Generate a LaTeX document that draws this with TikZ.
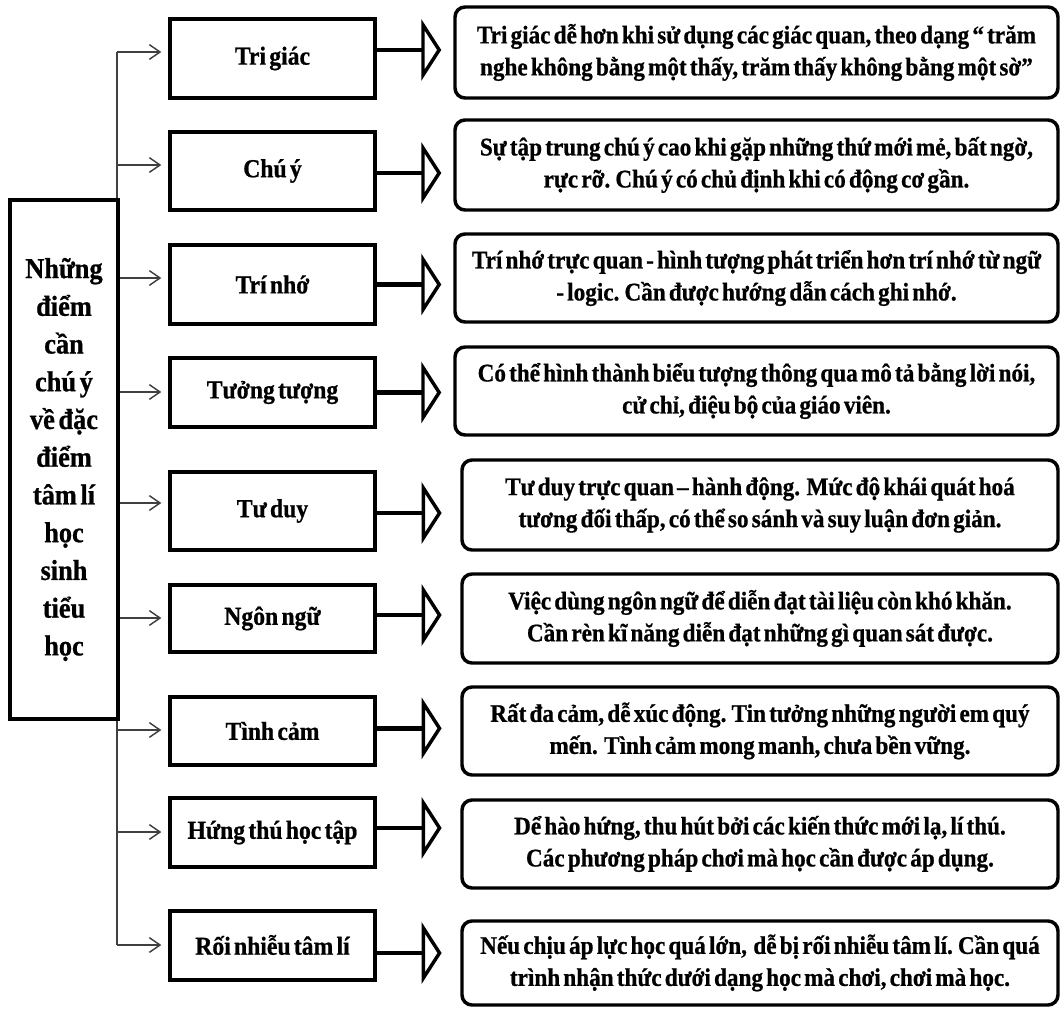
\documentclass[tikz,border=0pt]{standalone}
\usepackage{fontspec}
\newfontfamily\vnfont{Liberation Serif}[WordSpace=0.55,FakeStretch=0.915,FakeBold=0.8]
\usetikzlibrary{arrows.meta}
\tikzset{
  rootbox/.style={draw, line width=3pt, align=center, inner sep=0pt,
    font=\vnfont\bfseries\fontsize{21.6pt}{28.3pt}\selectfont,
    minimum width={108*0.75pt}, minimum height={519*0.75pt}},
  midbox/.style={draw, line width=3pt, inner sep=0pt,
    font=\vnfont\bfseries\fontsize{19.4pt}{22pt}\selectfont,
    minimum width={205*0.75pt}},
  descbox/.style={draw, line width=2.6pt, rounded corners=7.5pt, align=center, inner sep=0pt,
    font=\vnfont\bfseries\fontsize{19pt}{24pt}\selectfont},
  thinline/.style={draw=black!75, line width=1.1pt},
  thinarrow/.style={thinline, -{Straight Barb[length=8pt,width=11pt]}, shorten >=5pt},
  bigarrow/.style={draw, line width=3.6pt, -{Triangle[open,length=15pt,width=46pt,line width=2.6pt,fill=white]}},
}
\begin{document}
\begin{tikzpicture}[x=0.75pt,y=-0.75pt]
\useasboundingbox (0,0) rectangle (1061,1010);

% middle boxes
\node[midbox, minimum height={79*0.75pt}] (m1) at (272.5,58.5) {Tri giác};
\node[midbox, minimum height={78*0.75pt}] (m2) at (272.5,171) {Chú ý};
\node[midbox, minimum height={79*0.75pt}] (m3) at (272.5,284.5) {Trí nhớ};
\node[midbox, minimum height={69*0.75pt}] (m4) at (272.5,392.5) {Tưởng tượng};
\node[midbox, minimum height={78*0.75pt}] (m5) at (272.5,511) {Tư duy};
\node[midbox, minimum height={67*0.75pt}] (m6) at (272.5,618.5) {Ngôn ngữ};
\node[midbox, minimum height={68*0.75pt}] (m7) at (272.5,731) {Tình cảm};
\node[midbox, minimum height={69*0.75pt}] (m8) at (272.5,832.5) {Hứng thú học tập};
\node[midbox, minimum height={69*0.75pt}] (m9) at (272.5,945) {Rối nhiễu tâm lí};

% description boxes
\node[descbox, minimum width={603*0.75pt}, minimum height={91*0.75pt}] (d1) at (756.5,52.5)
  {Tri giác dễ hơn khi sử dụng các giác quan, theo dạng “ trăm\\nghe không bằng một thấy, trăm thấy không bằng một sờ”};
\node[descbox, minimum width={603*0.75pt}, minimum height={90*0.75pt}] (d2) at (756.5,165)
  {Sự tập trung chú ý cao khi gặp những thứ mới mẻ, bất ngờ,\\rực rỡ. Chú ý có chủ định khi có động cơ gần.};
\node[descbox, minimum width={603*0.75pt}, minimum height={88*0.75pt}] (d3) at (756.5,278)
  {Trí nhớ trực quan - hình tượng phát triển hơn trí nhớ từ ngữ\\- logic. Cần được hướng dẫn cách ghi nhớ.};
\node[descbox, minimum width={603*0.75pt}, minimum height={88*0.75pt}] (d4) at (756.5,391)
  {Có thể hình thành biểu tượng thông qua mô tả bằng lời nói,\\cử chỉ, điệu bộ của giáo viên.};
\node[descbox, minimum width={596*0.75pt}, minimum height={90*0.75pt}] (d5) at (760,505)
  {Tư duy trực quan – hành động.\ \ Mức độ khái quát hoá\\tương đối thấp, có thể so sánh và suy luận đơn giản.};
\node[descbox, minimum width={596*0.75pt}, minimum height={89*0.75pt}] (d6) at (760,618.5)
  {Việc dùng ngôn ngữ để diễn đạt tài liệu còn khó khăn.\\Cần rèn kĩ năng diễn đạt những gì quan sát được.};
\node[descbox, minimum width={596*0.75pt}, minimum height={88*0.75pt}] (d7) at (760,731)
  {Rất đa cảm, dễ xúc động. Tin tưởng những người em quý\\mến.\ \ Tình cảm mong manh, chưa bền vững.};
\node[descbox, minimum width={596*0.75pt}, minimum height={88*0.75pt}] (d8) at (760,844)
  {Dể hào hứng, thu hút bởi các kiến thức mới lạ, lí thú.\\Các phương pháp chơi mà học cần được áp dụng.};
\node[descbox, minimum width={596*0.75pt}, minimum height={84*0.75pt}] (d9) at (760,963)
  {Nếu chịu áp lực học quá lớn,\ \ dễ bị rối nhiễu tâm lí. Cần quá\\trình nhận thức dưới dạng học mà chơi, chơi mà học.};

% trunk and thin arrows
\coordinate (t1) at (117,52);
\coordinate (t2) at (117,165);
\coordinate (t3) at (117,278);
\coordinate (t4) at (117,392);
\coordinate (t5) at (117,503);
\coordinate (t6) at (117,618);
\coordinate (t7) at (117,730);
\coordinate (t8) at (117,832);
\coordinate (t9) at (117,945);
\draw[thinline] (t1) -- (t9);
\foreach \i in {1,...,9}
  \draw[thinarrow] (t\i) -- (t\i -| m\i.west);

% root box
\node[rootbox] (root) at (64,459.5)
  {Những\\điểm\\cần\\chú ý\\về đặc\\điểm\\tâm lí\\học\\sinh\\tiểu\\học};

% thick arrows
\foreach \i/\s/\sh in {1/6.4/9,2/-1.5/9,3/0/9,4/0/9,5/-1.5/14,6/2.6/14,7/2/14,8/3.4/14,9/-6/14}
  \draw[bigarrow, shorten >=\sh pt] ([yshift=\s pt]m\i.east) -- ([yshift=\s pt]m\i.east -| d\i.west);
\end{tikzpicture}
\end{document}
